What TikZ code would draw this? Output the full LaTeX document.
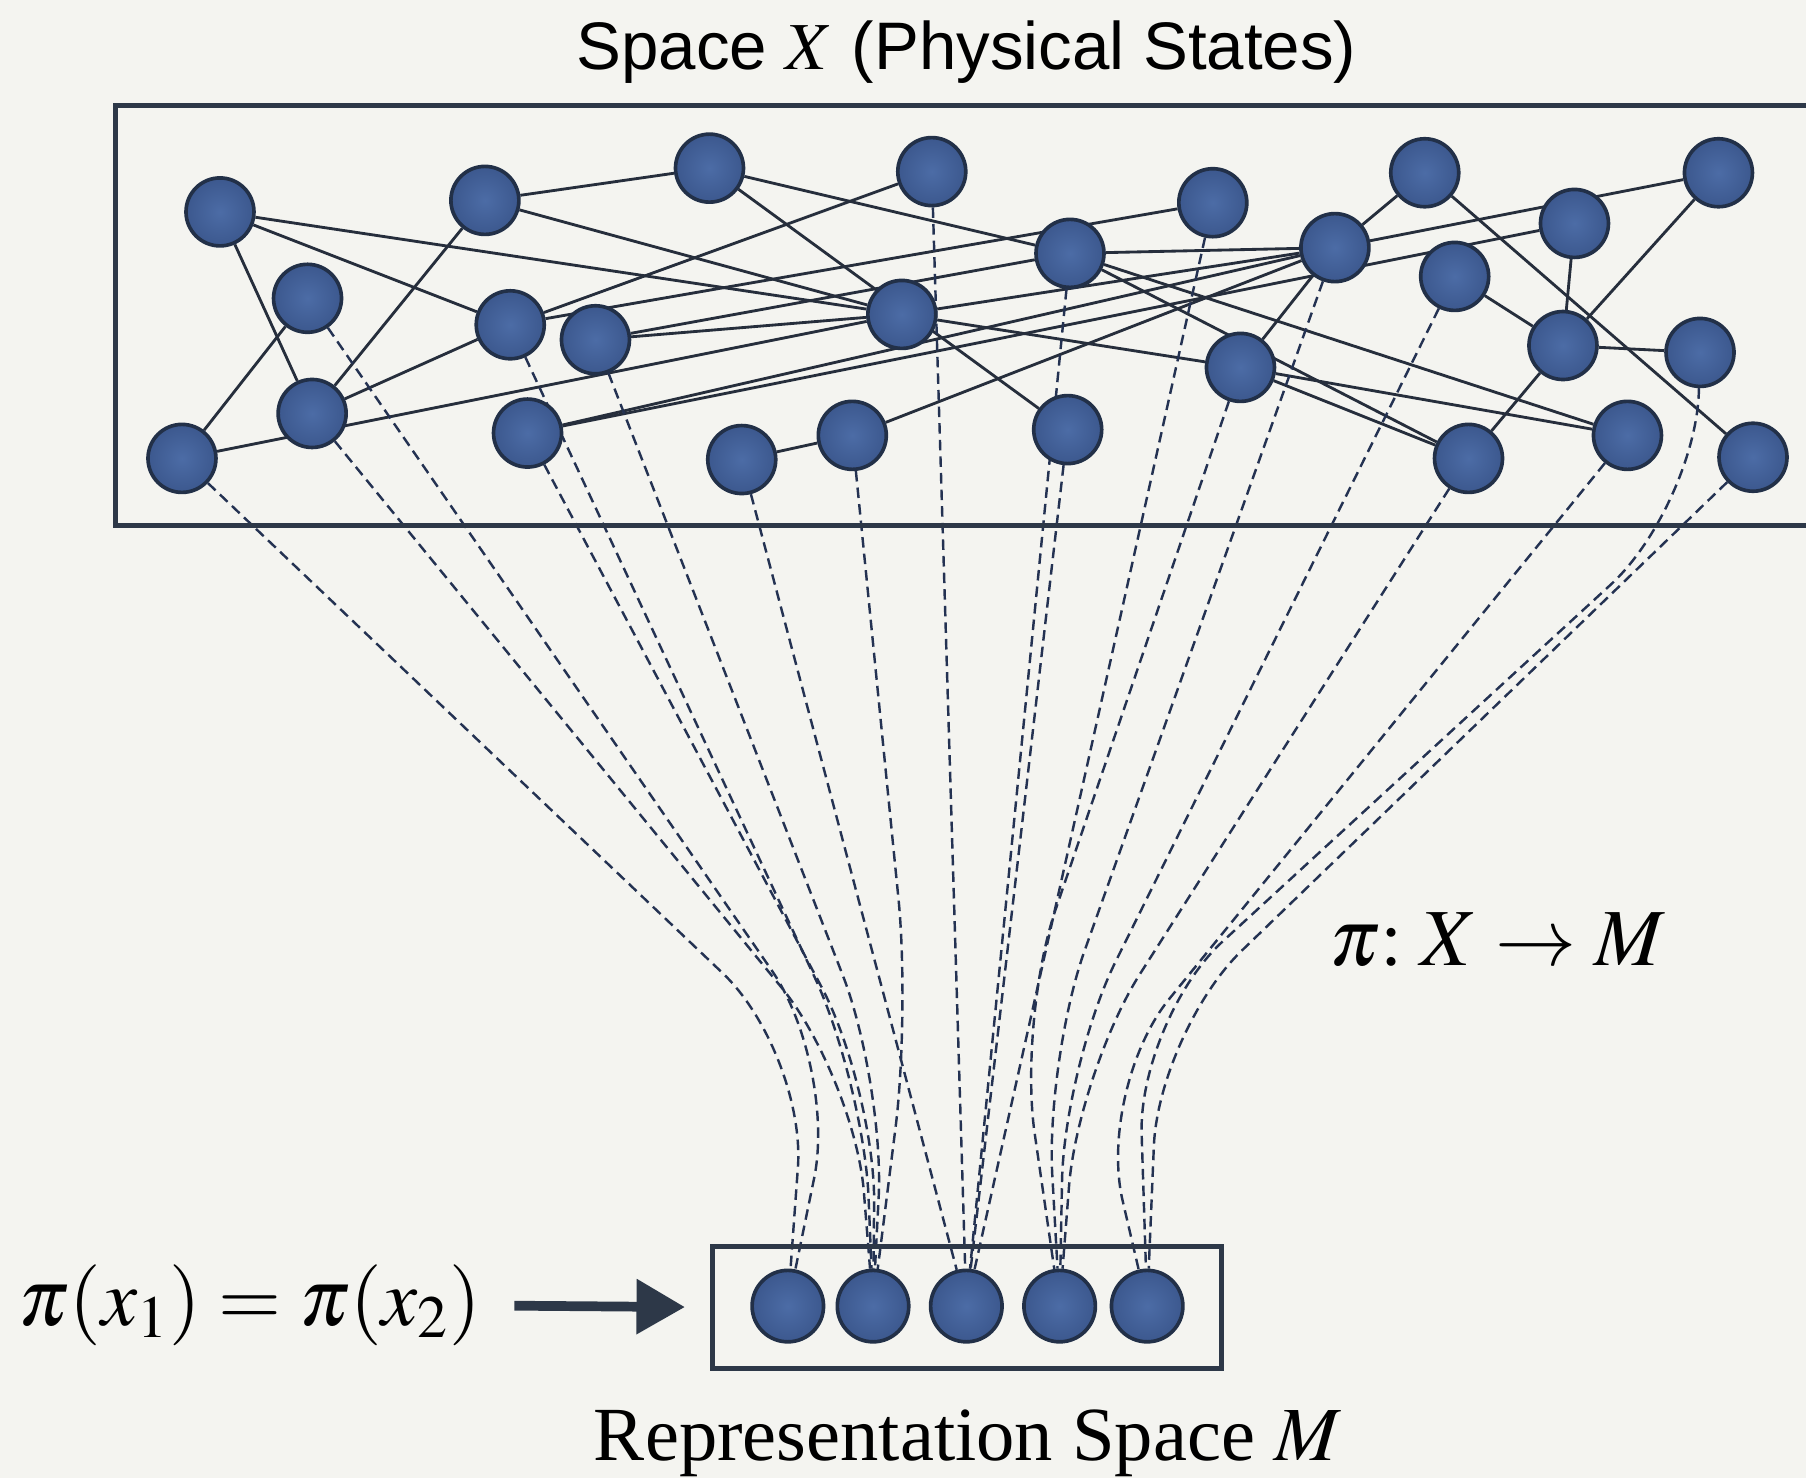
\documentclass[tikz,border=0pt]{standalone}
\usepackage{amsmath}
\usepackage{mathptmx}
\usepackage{fontspec}
\setmainfont{Liberation Serif}
\newfontfamily\headfont{Liberation Sans}
\usetikzlibrary{arrows.meta, positioning, calc}

\definecolor{paper}{RGB}{244,244,240}
\definecolor{dotin}{RGB}{76,108,166}
\definecolor{dotout}{RGB}{60,88,142}
\definecolor{dotrim}{RGB}{34,48,72}
\definecolor{linkc}{RGB}{38,46,60}
\definecolor{projc}{RGB}{36,50,82}
\definecolor{framec}{RGB}{45,56,72}

\pgfdeclarelayer{back}
\pgfsetlayers{back,main}

\tikzset{
  state/.style={circle, shading=radial, inner color=dotin, outer color=dotout,
    draw=dotrim, line width=0.9pt, minimum size=0.59cm, inner sep=0pt},
  rep/.style={state, minimum size=0.62cm},
  link/.style={linkc, line width=0.7pt},
  proj/.style={projc, line width=0.6pt, dash pattern=on 2.6pt off 1.5pt,
    rounded corners=1cm},
  frame/.style={draw=framec, line width=1.25pt}
}

\begin{document}
\begin{tikzpicture}[x=0.01cm, y=-0.01cm]
  \useasboundingbox (0,0) rectangle (1568,1283);

  % 空间 X 的框
  \draw[frame] (100,92) rectangle (1620,456);
  \node[font=\headfont\fontsize{16.6}{20}\selectfont, anchor=base] (title) at (839,60)
    {Space $X$ (Physical States)};

  % 物理状态
  \node[state] (a1) at (191,184) {};
  \node[state] (a2) at (421,174) {};
  \node[state] (a3) at (616,146) {};
  \node[state] (a4) at (809,149) {};
  \node[state] (a5) at (1053,176) {};
  \node[state] (a6) at (1237,150) {};
  \node[state] (a7) at (1492,150) {};
  \node[state] (b1) at (267,259) {};
  \node[state] (b2) at (443,282) {};
  \node[state] (b3) at (517,295) {};
  \node[state] (b4) at (783,273) {};
  \node[state] (b5) at (929,220) {};
  \node[state] (b6) at (1159,215) {};
  \node[state] (b7) at (1263,240) {};
  \node[state] (b8) at (1367,194) {};
  \node[state] (c1) at (158,398) {};
  \node[state] (c2) at (271,359) {};
  \node[state] (c3) at (458,376) {};
  \node[state] (c4) at (644,399) {};
  \node[state] (c5) at (740,378) {};
  \node[state] (c6) at (927,373) {};
  \node[state] (c7) at (1077,319) {};
  \node[state] (c8) at (1357,300) {};
  \node[state] (c9) at (1476,306) {};
  \node[state] (c10) at (1275,398) {};
  \node[state] (c11) at (1413,378) {};
  \node[state] (c12) at (1522,397) {};

  % 表示空间 M
  \node[frame, minimum width=4.41cm, minimum height=1.06cm, inner sep=0pt] (mbox) at (839.5,1135) {};
  \foreach \i/\x in {1/684, 2/758, 3/839, 4/920, 5/996}
    \node[rep] (m\i) at (\x,1134) {};
  \node[font=\fontsize{18.9}{23}\selectfont, anchor=base] (replabel) at (840,1268)
    {Representation Space $M$};

  % 映射与等式
  \node[font=\fontsize{20}{24}\selectfont, anchor=base] (maplabel) at (1300,838)
    {$\pi{:}\; X \to M$};
  \node[font=\fontsize{20}{24}\selectfont, anchor=base, inner sep=0pt] (eq) at (217,1151)
    {$\pi(x_1) = \pi(x_2)$};
  \draw[framec, line width=2.4pt, -{Triangle[length=0.42cm, width=0.46cm]},
    shorten <=0.28cm, shorten >=0.22cm] (eq.east) -- (mbox.west);

  \begin{pgfonlayer}{back}
    % 背景
    \fill[paper] (0,0) rectangle (1568,1283);
    % 状态之间的连线
    \foreach \u/\v in {a1/b4, a1/b2, a1/c2, b1/c1, c1/b4, c2/a2, c2/b2,
        a2/a3, a2/b4, a3/b5, a3/c6, a4/b2, b2/a5, b3/b4, b3/b5, b4/c7,
        b4/b6, c3/b6, c3/b8, c4/c5, c5/b6, b5/b6, b5/c11, b5/c10, c7/c11,
        c7/c10, c7/b6, b6/a6, b6/a7, a6/c12, b7/c8, b8/c8, a7/c8, c8/c9,
        c8/c10}
      \draw[link] (\u) -- (\v);
    % 投影（弯折）
    \foreach \s/\t/\wx/\wy in {c1/m1/700/914, b1/m1/727/925, c2/m2/742/935,
        b2/m2/750/940, c3/m2/760/945, b3/m2/768/940, c5/m2/790/880,
        c7/m4/884/885, b6/m4/908/920, b7/m4/924/925, c10/m4/936/930,
        c11/m5/952/945, c12/m5/1006/895}
      \draw[proj] (\s) -- (\wx,\wy) -- (\t);
    \draw[proj] (c9) -- (1472,440) -- (988,885) -- (m5);
    % 投影（直线）
    \foreach \s/\t in {c4/m3, a4/m3, b5/m3, c6/m3, a5/m3}
      \draw[proj] (\s) -- (\t);
  \end{pgfonlayer}
\end{tikzpicture}
\end{document}
